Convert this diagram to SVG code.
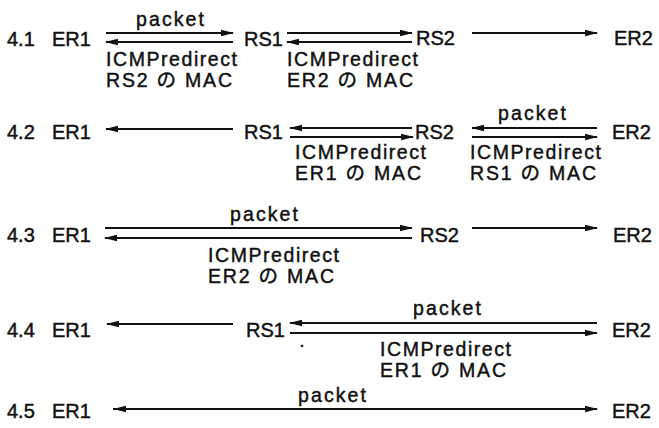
<svg xmlns="http://www.w3.org/2000/svg" width="659" height="428" viewBox="0 0 659 428">
<style>
text{font-family:"Liberation Sans","Noto Sans CJK JP",sans-serif;font-size:20px;fill:#111;stroke:#111;stroke-width:0.45}
.lb{font-size:19.5px}
.ln{stroke:#111;stroke-width:2;fill:none}
.a{marker-end:url(#ah)}
.b{marker-end:url(#ah);marker-start:url(#as)}
</style>
<defs>
<marker id="ah" markerUnits="userSpaceOnUse" markerWidth="14" markerHeight="8" refX="12" refY="4" orient="auto"><path d="M0,0.8 L13,4 L0,7.2 z" fill="#111"/></marker>
<marker id="as" markerUnits="userSpaceOnUse" markerWidth="14" markerHeight="8" refX="1" refY="4" orient="auto"><path d="M14,0.8 L1,4 L14,7.2 z" fill="#111"/></marker>
</defs>
<rect width="659" height="428" fill="#fff"/>

<g id="row41">
<text x="7" y="46">4.1</text>
<g id="r41-ER1"><text x="52" y="46">ER1</text></g>
<g id="r41-RS1"><text x="244" y="46">RS1</text></g>
<g id="r41-RS2"><text x="416" y="45">RS2</text></g>
<g id="r41-ER2"><text x="614" y="45">ER2</text></g>
</g>
<g id="row42">
<text x="7" y="139">4.2</text>
<g id="r42-ER1"><text x="52" y="139">ER1</text></g>
<g id="r42-RS1"><text x="244" y="139">RS1</text></g>
<g id="r42-RS2"><text x="415" y="139">RS2</text></g>
<g id="r42-ER2"><text x="612" y="139">ER2</text></g>
</g>
<g id="row43">
<text x="7" y="242">4.3</text>
<g id="r43-ER1"><text x="52" y="242">ER1</text></g>
<g id="r43-RS2"><text x="420" y="242">RS2</text></g>
<g id="r43-ER2"><text x="613" y="242">ER2</text></g>
</g>
<g id="row44">
<text x="7" y="337">4.4</text>
<g id="r44-ER1"><text x="52" y="337">ER1</text></g>
<g id="r44-RS1"><text x="246" y="337">RS1</text></g>
<g id="r44-ER2"><text x="612" y="337">ER2</text></g>
</g>
<g id="row45">
<text x="7" y="418">4.5</text>
<g id="r45-ER1"><text x="52" y="418">ER1</text></g>
<g id="r45-ER2"><text x="612" y="418">ER2</text></g>
</g>

<g id="connectors">
<line class="ln a" x1="106" y1="33" x2="233" y2="33"/>
<line class="ln a" x1="233" y1="42" x2="106" y2="42"/>
<line class="ln a" x1="287" y1="33" x2="412" y2="33"/>
<line class="ln a" x1="412" y1="42" x2="287" y2="42"/>
<line class="ln a" x1="472" y1="33" x2="597" y2="33"/>

<line class="ln a" x1="233" y1="129" x2="106" y2="129"/>
<line class="ln a" x1="412" y1="128" x2="290" y2="128"/>
<line class="ln a" x1="290" y1="137" x2="413" y2="137"/>
<line class="ln a" x1="597" y1="128" x2="472" y2="128"/>
<line class="ln a" x1="472" y1="137" x2="597" y2="137"/>

<line class="ln a" x1="105" y1="228" x2="412" y2="228"/>
<line class="ln a" x1="412" y1="238" x2="105" y2="238"/>
<line class="ln a" x1="472" y1="228" x2="597" y2="228"/>

<line class="ln a" x1="233" y1="324" x2="107" y2="324"/>
<line class="ln a" x1="597" y1="323" x2="290" y2="323"/>
<line class="ln a" x1="290" y1="333" x2="597" y2="333"/>

<line class="ln b" x1="113" y1="409" x2="597" y2="409"/>
</g>

<g id="labels">
<text class="lb" x="136" y="26" textLength="68">packet</text>
<text class="lb" x="106" y="66" textLength="131">ICMPredirect</text>
<text class="lb" x="106" y="87" textLength="126">RS2 の MAC</text>
<text class="lb" x="287" y="66" textLength="131">ICMPredirect</text>
<text class="lb" x="287" y="87" textLength="126">ER2 の MAC</text>

<text class="lb" x="498" y="120" textLength="68">packet</text>
<text class="lb" x="295" y="159" textLength="131">ICMPredirect</text>
<text class="lb" x="295" y="180" textLength="126">ER1 の MAC</text>
<text class="lb" x="470" y="159" textLength="131">ICMPredirect</text>
<text class="lb" x="470" y="180" textLength="126">RS1 の MAC</text>

<text class="lb" x="230" y="221" textLength="68">packet</text>
<text class="lb" x="208" y="262" textLength="131">ICMPredirect</text>
<text class="lb" x="208" y="283" textLength="126">ER2 の MAC</text>

<text class="lb" x="413" y="315" textLength="68">packet</text>
<text class="lb" x="380" y="356" textLength="131">ICMPredirect</text>
<text class="lb" x="380" y="377" textLength="126">ER1 の MAC</text>
<circle cx="302" cy="346" r="1.3" fill="#111"/>

<text class="lb" x="298" y="402" textLength="68">packet</text>
</g>
</svg>
